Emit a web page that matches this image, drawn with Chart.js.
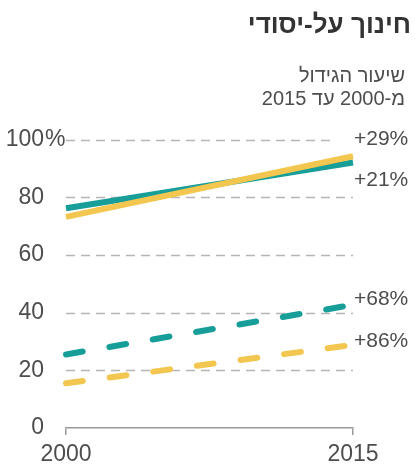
<!DOCTYPE html>
<html>
<head>
<meta charset="utf-8">
<script src="https://cdn.jsdelivr.net/npm/chart.js@4.4.1/dist/chart.umd.min.js"></script>
<style>
  body { margin: 0; background: #fff; }
  canvas { display: block; }
</style>
</head>
<body>
<canvas id="chart" width="415" height="466"></canvas>
<script>
// data
const years = ['2000', '2015'];
const solidYellow = [73.2, 94.2];
const solidTeal = [76.2, 92.0];
const dashedTeal = [25.5, 42.7];
const dashedYellow = [15.5, 28.8];
const growthLabels = ['+29%', '+21%', '+68%', '+86%'];
const yTicks = [0, 20, 40, 60, 80, 100];
const titleText = 'חינוך על-יסודי';
const subtitleLines = ['שיעור הגידול', 'מ-2000 עד 2015'];

const TEAL = '#179e99';
const YELLOW = '#f3c74f';
const TEXT = '#4d4d4d';
const FONT = '"Liberation Sans", Arial, sans-serif';
// vertical nudge of each growth label relative to its line end (px)
const labelNudge = [-17, 18, -6, -4];

const decor = {
  id: 'decor',
  beforeDatasetsDraw(chart) {
    const { ctx, chartArea, scales } = chart;
    const y = scales.y;
    ctx.save();
    ctx.strokeStyle = '#b5b5b5';
    ctx.lineWidth = 1.3;
    ctx.setLineDash([9, 6]);
    yTicks.forEach(v => {
      if (v === 0) return;
      const py = Math.round(y.getPixelForValue(v)) + 0.5;
      const right = v === 100 ? chartArea.right - 20 : chartArea.right;
      ctx.beginPath();
      ctx.moveTo(chartArea.left, py);
      ctx.lineTo(right, py);
      ctx.stroke();
    });
    ctx.setLineDash([]);
    ctx.fillStyle = TEXT;
    ctx.font = '23px ' + FONT;
    ctx.textBaseline = 'middle';
    yTicks.forEach(v => {
      const py = y.getPixelForValue(v);
      ctx.textAlign = 'right';
      ctx.fillText(String(v), chartArea.left - 22, py);
      if (v === 100) {
        ctx.textAlign = 'left';
        ctx.fillText('%', chartArea.left - 21, py);
      }
    });
    ctx.restore();
  },
  afterDatasetsDraw(chart) {
    const { ctx } = chart;
    ctx.save();
    ctx.fillStyle = TEXT;
    ctx.font = '21px ' + FONT;
    ctx.textAlign = 'left';
    ctx.textBaseline = 'middle';
    chart.data.datasets.forEach((ds, i) => {
      const pts = chart.getDatasetMeta(i).data;
      const last = pts[pts.length - 1];
      ctx.fillText(growthLabels[i], last.x + 1, last.y + labelNudge[i]);
    });
    ctx.restore();
  },
  afterDraw(chart) {
    const { ctx } = chart;
    ctx.save();
    ctx.direction = 'rtl';
    ctx.textAlign = 'right';
    ctx.textBaseline = 'middle';
    ctx.fillStyle = '#333';
    ctx.font = 'bold 26px ' + FONT;
    ctx.fillText(titleText, 411, 26);
    ctx.fillStyle = TEXT;
    ctx.font = '20px ' + FONT;
    subtitleLines.forEach((line, i) => ctx.fillText(line, 405, 76 + i * 23));
    ctx.restore();
  }
};

const ctx = document.getElementById('chart').getContext('2d');
new Chart(ctx, {
  type: 'line',
  data: {
    labels: years,
    datasets: [
      { data: solidYellow, borderColor: YELLOW, borderWidth: 6 },
      { data: solidTeal, borderColor: TEAL, borderWidth: 6 },
      { data: dashedTeal, borderColor: TEAL, borderWidth: 6, borderDash: [17, 27], borderCapStyle: 'round' },
      { data: dashedYellow, borderColor: YELLOW, borderWidth: 6, borderDash: [17, 27], borderCapStyle: 'round' }
    ]
  },
  options: {
    responsive: false,
    animation: false,
    events: [],
    layout: { padding: { left: 66, right: 62, top: 139.5, bottom: 0 } },
    elements: {
      point: { radius: 0 },
      line: { tension: 0, fill: false }
    },
    plugins: {
      legend: { display: false },
      tooltip: { enabled: false },
      title: { display: false }
    },
    scales: {
      x: {
        offset: false,
        afterFit(scale) { scale.height = 38; },
        grid: { drawOnChartArea: false, color: '#999', lineWidth: 1.5, tickLength: 7 },
        border: { color: '#999', width: 1.5 },
        ticks: {
          color: TEXT,
          padding: 8,
          maxRotation: 0,
          font: { family: FONT, size: 23, lineHeight: 1 }
        }
      },
      y: {
        display: false,
        min: 0,
        max: 100
      }
    }
  },
  plugins: [decor]
});
</script>
</body>
</html>
